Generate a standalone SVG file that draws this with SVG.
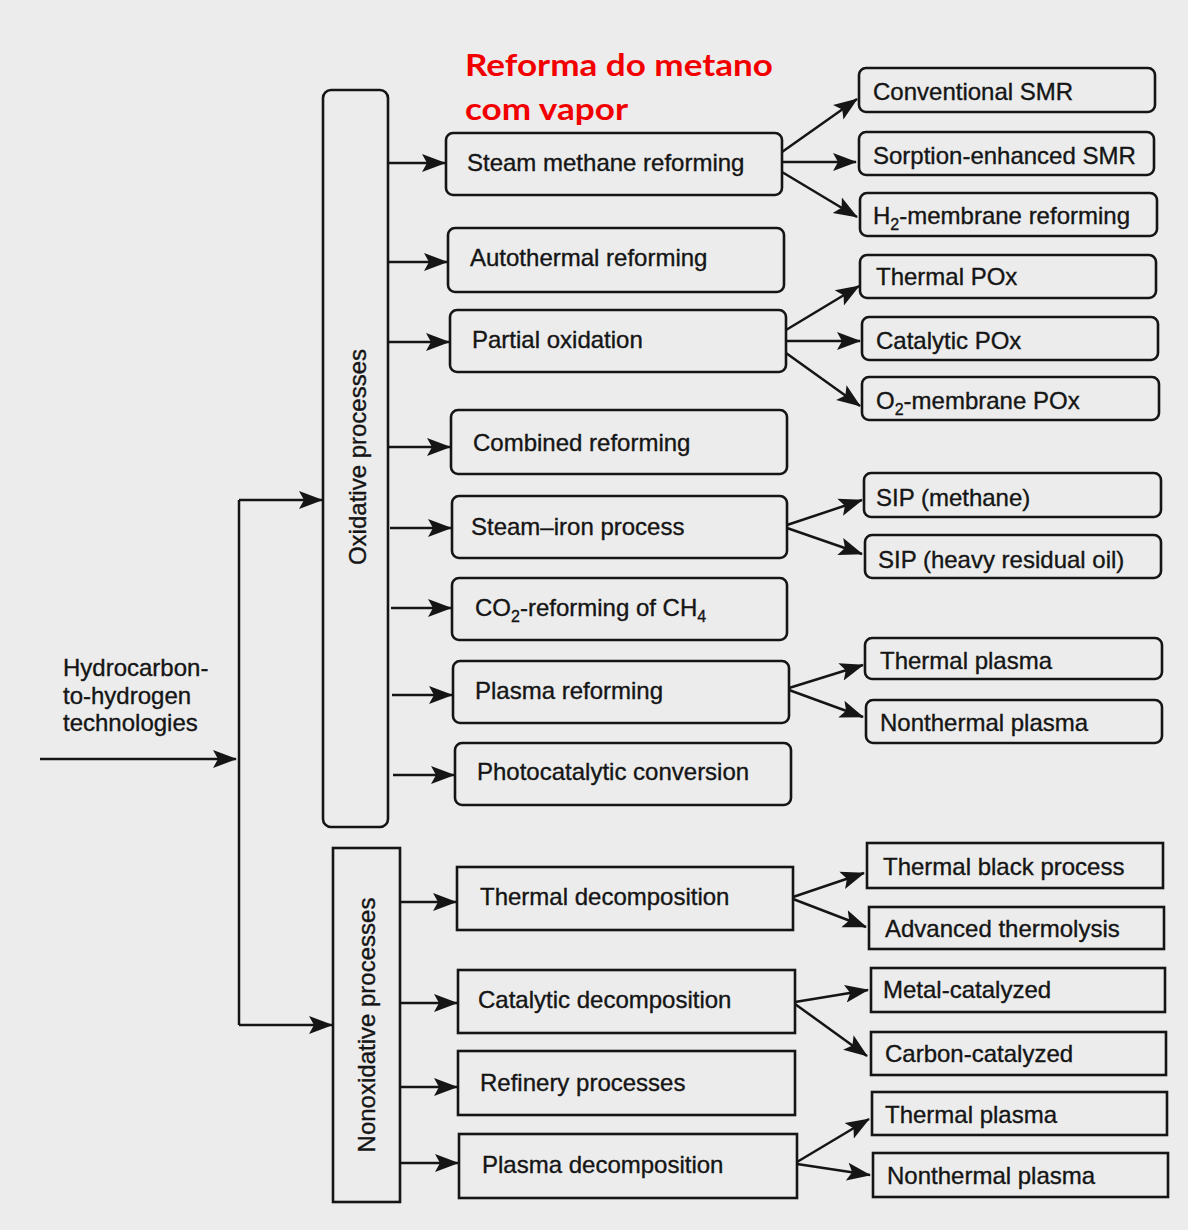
<svg xmlns="http://www.w3.org/2000/svg" width="1188" height="1230" viewBox="0 0 1188 1230">
<defs>
<marker id="ah" markerUnits="userSpaceOnUse" markerWidth="25" markerHeight="20" refX="23" refY="10" orient="auto">
<path d="M0,1 L24,10 L0,19 L5,10 z" fill="#151515"/>
</marker>
<style>
.bx{fill:none;stroke:#151515;stroke-width:2.6}
.t{font-family:"Liberation Sans",Arial,sans-serif;font-size:24px;fill:#151515;stroke:#151515;stroke-width:0.35}
.c{fill:none;stroke:#151515;stroke-width:2.5;marker-end:url(#ah)}
.ln{fill:none;stroke:#151515;stroke-width:2.5}
.title{font-family:Lato,"Open Sans",sans-serif;font-weight:700;font-size:30px;fill:#f20000}
</style>
</defs>
<rect width="1188" height="1230" fill="#ececec"/>
<g id="title">
<text class="title" x="465" y="76" textLength="308" lengthAdjust="spacingAndGlyphs">Reforma do metano</text>
<text class="title" x="465" y="120" textLength="163" lengthAdjust="spacingAndGlyphs">com vapor</text>
</g>
<g id="connectors">
<path class="c" d="M40,759 H236"/>
<path class="ln" d="M239,500 V1025"/>
<path class="c" d="M239,500 H322"/>
<path class="c" d="M239,1025 H332"/>
<path class="c" d="M387,163 H445"/>
<path class="c" d="M387,262 H447"/>
<path class="c" d="M388,342 H449"/>
<path class="c" d="M389,447 H450"/>
<path class="c" d="M390,528 H451"/>
<path class="c" d="M391,608 H451"/>
<path class="c" d="M392,695 H452"/>
<path class="c" d="M393,775 H454"/>
<path class="c" d="M400,902 H456"/>
<path class="c" d="M400,1003 H457"/>
<path class="c" d="M400,1087 H457"/>
<path class="c" d="M400,1163 H458"/>
<path class="c" d="M782,152 L857,99"/>
<path class="c" d="M782,162 H856"/>
<path class="c" d="M782,172 L857,217"/>
<path class="c" d="M786,330 L859,286"/>
<path class="c" d="M786,341 H860"/>
<path class="c" d="M786,353 L860,406"/>
<path class="c" d="M787,525 L862,500"/>
<path class="c" d="M787,528 L862,554"/>
<path class="c" d="M789,688 L863,665"/>
<path class="c" d="M789,690 L863,717"/>
<path class="c" d="M793,897 L864,873"/>
<path class="c" d="M793,899 L866,927"/>
<path class="c" d="M795,1002 L868,990"/>
<path class="c" d="M795,1004 L867,1056"/>
<path class="c" d="M797,1162 L869,1119"/>
<path class="c" d="M797,1164 L870,1175"/>
</g>
<g id="n-input"><text class="t" x="63" y="676">Hydrocarbon-</text><text class="t" x="63" y="704">to-hydrogen</text><text class="t" x="63" y="731">technologies</text></g>
<g id="n-oxidative"><rect class="bx" x="323" y="90" width="65" height="737" rx="8"/><text class="t" transform="translate(366,457) rotate(-90)" text-anchor="middle">Oxidative processes</text></g>
<g id="n-nonoxidative"><rect class="bx" x="333" y="848" width="67" height="354"/><text class="t" transform="translate(375,1025) rotate(-90)" text-anchor="middle">Nonoxidative processes</text></g>

<g id="n-smr"><rect class="bx" x="446" y="133" width="336" height="62" rx="7"/><text class="t" x="467" y="171">Steam methane reforming</text></g>
<g id="n-atr"><rect class="bx" x="448" y="228" width="336" height="64" rx="7"/><text class="t" x="470" y="266">Autothermal reforming</text></g>
<g id="n-pox"><rect class="bx" x="450" y="310" width="336" height="62" rx="7"/><text class="t" x="472" y="348">Partial oxidation</text></g>
<g id="n-comb"><rect class="bx" x="451" y="410" width="336" height="64" rx="7"/><text class="t" x="473" y="451">Combined reforming</text></g>
<g id="n-iron"><rect class="bx" x="452" y="496" width="335" height="62" rx="7"/><text class="t" x="471" y="535">Steam–iron process</text></g>
<g id="n-co2"><rect class="bx" x="452" y="578" width="335" height="62" rx="7"/><text class="t" x="475" y="616">CO<tspan font-size="16" dy="6">2</tspan><tspan dy="-6">-reforming of CH</tspan><tspan font-size="16" dy="6">4</tspan></text></g>
<g id="n-plref"><rect class="bx" x="453" y="661" width="336" height="62" rx="7"/><text class="t" x="475" y="699">Plasma reforming</text></g>
<g id="n-photo"><rect class="bx" x="455" y="743" width="336" height="62" rx="7"/><text class="t" x="477" y="780">Photocatalytic conversion</text></g>
<g id="n-tdec"><rect class="bx" x="457" y="867" width="336" height="63"/><text class="t" x="480" y="905">Thermal decomposition</text></g>
<g id="n-cdec"><rect class="bx" x="458" y="970" width="337" height="63"/><text class="t" x="478" y="1008">Catalytic decomposition</text></g>
<g id="n-ref"><rect class="bx" x="458" y="1051" width="337" height="64"/><text class="t" x="480" y="1091">Refinery processes</text></g>
<g id="n-pdec"><rect class="bx" x="459" y="1134" width="338" height="64"/><text class="t" x="482" y="1173">Plasma decomposition</text></g>

<g id="n-conv"><rect class="bx" x="859" y="68" width="296" height="44" rx="7"/><text class="t" x="873" y="100">Conventional SMR</text></g>
<g id="n-sorp"><rect class="bx" x="859" y="132" width="295" height="43" rx="7"/><text class="t" x="873" y="164">Sorption-enhanced SMR</text></g>
<g id="n-h2m"><rect class="bx" x="860" y="193" width="297" height="43" rx="7"/><text class="t" x="873" y="224">H<tspan font-size="16" dy="6">2</tspan><tspan dy="-6">-membrane reforming</tspan></text></g>
<g id="n-tpox"><rect class="bx" x="860" y="255" width="296" height="43" rx="7"/><text class="t" x="876" y="285">Thermal POx</text></g>
<g id="n-cpox"><rect class="bx" x="862" y="317" width="296" height="43" rx="7"/><text class="t" x="876" y="349">Catalytic POx</text></g>
<g id="n-o2m"><rect class="bx" x="862" y="377" width="297" height="43" rx="7"/><text class="t" x="876" y="409">O<tspan font-size="16" dy="6">2</tspan><tspan dy="-6">-membrane POx</tspan></text></g>
<g id="n-sipm"><rect class="bx" x="864" y="473" width="297" height="44" rx="7"/><text class="t" x="876" y="506">SIP (methane)</text></g>
<g id="n-siph"><rect class="bx" x="865" y="535" width="296" height="43" rx="7"/><text class="t" x="878" y="568">SIP (heavy residual oil)</text></g>
<g id="n-tp1"><rect class="bx" x="865" y="638" width="297" height="41" rx="7"/><text class="t" x="880" y="669">Thermal plasma</text></g>
<g id="n-ntp1"><rect class="bx" x="866" y="700" width="296" height="43" rx="7"/><text class="t" x="880" y="731">Nonthermal plasma</text></g>
<g id="n-tbp"><rect class="bx" x="867" y="843" width="296" height="45"/><text class="t" x="883" y="875">Thermal black process</text></g>
<g id="n-adv"><rect class="bx" x="869" y="907" width="295" height="42"/><text class="t" x="885" y="937">Advanced thermolysis</text></g>
<g id="n-metal"><rect class="bx" x="871" y="968" width="294" height="44"/><text class="t" x="883" y="998">Metal-catalyzed</text></g>
<g id="n-carbon"><rect class="bx" x="871" y="1032" width="295" height="43"/><text class="t" x="885" y="1062">Carbon-catalyzed</text></g>
<g id="n-tp2"><rect class="bx" x="872" y="1092" width="295" height="43"/><text class="t" x="885" y="1123">Thermal plasma</text></g>
<g id="n-ntp2"><rect class="bx" x="873" y="1153" width="295" height="44"/><text class="t" x="887" y="1184">Nonthermal plasma</text></g>
</svg>
